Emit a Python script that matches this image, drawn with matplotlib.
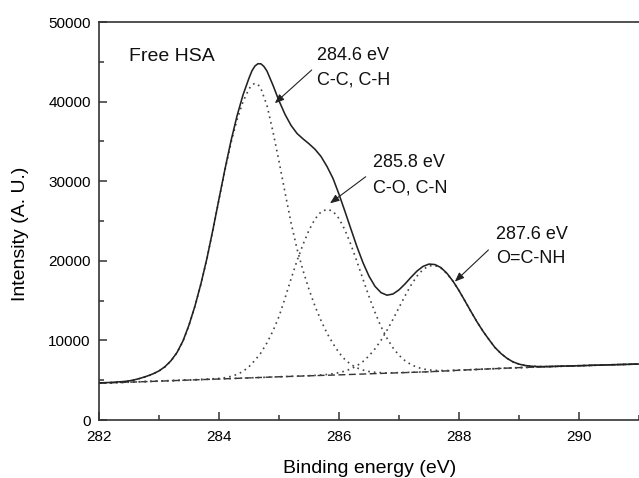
import matplotlib
matplotlib.use("Agg")
import matplotlib.pyplot as plt
from matplotlib.ticker import MultipleLocator

plt.rcParams['font.family'] = ['Liberation Sans', 'DejaVu Sans']

# ---- data (binding energy in eV, intensity in a.u.) ----
base_E = [282.0, 282.5, 283.0, 283.5, 284.0, 284.5, 285.0, 285.5, 286.0, 286.5,
          287.0, 287.5, 288.0, 288.5, 289.0, 289.5, 290.0, 290.5, 291.0]
base_I = [4620, 4750, 4880, 5020, 5150, 5290, 5430, 5550, 5670, 5800,
          5930, 6060, 6250, 6420, 6580, 6700, 6820, 6930, 7030]

c1_E = [282.0, 282.2, 282.4, 282.5, 282.6, 282.7, 282.8, 282.9, 283.0, 283.1,
        283.2, 283.3, 283.4, 283.5, 283.6, 283.7, 283.8, 283.9, 284.0, 284.1,
        284.2, 284.3, 284.4, 284.5, 284.55, 284.6, 284.65, 284.7, 284.8, 284.9,
        285.0, 285.1, 285.2, 285.3, 285.4, 285.5, 285.6, 285.7, 285.8, 285.9,
        286.0, 286.1, 286.2, 286.3, 286.4, 286.5, 286.6, 286.8, 287.0, 287.5,
        288.0, 288.5, 289.0, 289.5, 290.0, 290.5, 291.0]
c1_I = [4650, 4700, 4800, 4900, 5050, 5250, 5480, 5770, 6150, 6680,
        7420, 8450, 9900, 11900, 14300, 17100, 20300, 23900, 27700, 31400,
        34800, 37700, 40000, 41600, 42100, 42300, 42150, 41600, 39500, 36200,
        32500, 28600, 24800, 21500, 18800, 16400, 14300, 12500, 10900, 9600,
        8450, 7580, 6970, 6540, 6270, 6090, 5990, 5910, 5950, 6060,
        6250, 6420, 6580, 6700, 6820, 6930, 7030]

c2_E = [282.0, 282.5, 283.0, 283.5, 283.8, 284.0, 284.1, 284.2, 284.3, 284.4,
        284.5, 284.6, 284.7, 284.8, 284.9, 285.0, 285.1, 285.2, 285.3, 285.4,
        285.5, 285.6, 285.7, 285.8, 285.9, 286.0, 286.1, 286.2, 286.3, 286.4,
        286.5, 286.6, 286.7, 286.8, 286.9, 287.0, 287.1, 287.2, 287.3, 287.4,
        287.5, 287.6, 287.8, 288.0, 288.5, 289.0, 289.5, 290.0, 290.5, 291.0]
c2_I = [4630, 4760, 4900, 5040, 5130, 5230, 5320, 5480, 5720, 6100,
        6700, 7500, 8450, 9700, 11200, 13000, 15300, 17700, 20000, 22050,
        23850, 25250, 26150, 26470, 26230, 25300, 23860, 22000, 19890, 17680,
        15520, 13520, 11740, 10260, 9060, 8130, 7450, 6960, 6630, 6410,
        6290, 6230, 6210, 6260, 6420, 6580, 6700, 6820, 6930, 7030]

c3_E = [282.0, 283.0, 284.0, 285.0, 285.6, 285.8, 285.9,
        286.0, 286.1, 286.2, 286.3, 286.4, 286.5, 286.6, 286.7, 286.8, 286.9,
        287.0, 287.1, 287.2, 287.3, 287.4, 287.5, 287.6, 287.7, 287.8, 287.9,
        288.0, 288.1, 288.2, 288.3, 288.4, 288.5, 288.6, 288.7, 288.8, 288.9,
        289.0, 289.1, 289.2, 289.3, 289.4, 289.6, 290.0, 290.5, 291.0]
c3_I = [4620, 4880, 5150, 5430, 5600, 5720, 5815,
        5950, 6150, 6430, 6820, 7350, 8060, 8940, 10010, 11270, 12650,
        14130, 15590, 16940, 18080, 18900, 19360, 19400, 19070, 18380, 17420,
        16250, 14950, 13620, 12330, 11150, 10100, 9100, 8350, 7750, 7300,
        7020, 6850, 6760, 6720, 6710, 6740, 6820, 6930, 7030]

tot_E = [282.0, 282.2, 282.4, 282.5, 282.6, 282.7, 282.8, 282.9, 283.0, 283.1,
         283.2, 283.3, 283.4, 283.5, 283.6, 283.7, 283.8, 283.9, 284.0, 284.1,
         284.2, 284.3, 284.4, 284.5, 284.55, 284.6, 284.65, 284.7, 284.75, 284.8,
         284.9, 285.0, 285.1,
         285.2, 285.3, 285.4, 285.5, 285.6, 285.7, 285.8, 285.9, 286.0, 286.1,
         286.2, 286.3, 286.4, 286.5, 286.6, 286.7, 286.8, 286.9, 287.0, 287.1,
         287.2, 287.3, 287.4, 287.5, 287.6, 287.7, 287.8, 287.9, 288.0, 288.1,
         288.2, 288.3, 288.4, 288.5, 288.6, 288.7, 288.8, 288.9, 289.0, 289.1,
         289.2, 289.3, 289.4, 289.6, 290.0, 290.5, 291.0]
tot_I = [4660, 4720, 4825, 4910, 5065, 5270, 5510, 5800, 6170, 6700,
         7450, 8480, 9940, 11930, 14340, 17150, 20340, 23960, 27780, 31540,
         35070, 38190, 40840, 42950, 43880, 44480, 44760, 44740, 44400, 43830,
         42050, 40100, 38400,
         37020, 36000, 35320, 34700, 34010, 33110, 31850, 30350, 28360, 26190,
         23960, 21750, 19760, 18070, 16790, 16000, 15680, 15830, 16350, 17090,
         17930, 18710, 19295, 19590, 19530, 19140, 18420, 17440, 16260, 14950,
         13620, 12330, 11150, 10100, 9100, 8350, 7750, 7300, 7020, 6850,
         6760, 6720, 6710, 6740, 6820, 6930, 7030]

x_ticks = [282, 284, 286, 288, 290]
y_ticks = [0, 10000, 20000, 30000, 40000, 50000]

labels = [
    ("Free HSA", 282.505, 45100, 14),
    ("284.6 eV", 285.628, 45230, 13),
    ("C-C, C-H", 285.628, 42090, 13),
    ("285.8 eV", 286.562, 31780, 13),
    ("C-O, C-N", 286.562, 28640, 13),
    ("287.6 eV", 288.617, 22680, 13),
    ("O=C-NH", 288.617, 19690, 13),
]
arrows = [
    ((285.545, 43970), (284.93, 39790)),
    ((286.445, 30560), (285.85, 27220)),
    ((288.49, 21360), (287.93, 17380)),
]

# ---- figure ----
fig = plt.figure(figsize=(6.39, 4.78), dpi=100)
ax = fig.add_axes([99/639, 58/478, 540/639, 398/478])

ax.plot(base_E, base_I, color='#333333', lw=1.0, ls=(0, (5, 2.5)), zorder=2)
for E, I in ((c1_E, c1_I), (c2_E, c2_I), (c3_E, c3_I)):
    ax.plot(E, I, color='#444444', lw=1.2, ls=(0, (1, 2.4)), zorder=3)
ax.plot(tot_E, tot_I, color='#222222', lw=1.15, zorder=4,
        solid_joinstyle='round')

for txt, x, y, fs in labels:
    ax.text(x, y, txt, fontsize=fs, ha='left', va='baseline', color='#111111')
for (tail, tip) in arrows:
    ax.annotate('', xy=tip, xytext=tail,
                arrowprops=dict(arrowstyle='-|>,head_length=0.55,head_width=0.22',
                                color='#222222', lw=0.8, mutation_scale=10,
                                shrinkA=0, shrinkB=0), zorder=5)

ax.set_xlim(282, 291)
ax.set_ylim(0, 50000)
ax.set_xticks(x_ticks)
ax.set_xticklabels([str(t) for t in x_ticks])
ax.set_yticks(y_ticks)
ax.set_yticklabels([str(t) for t in y_ticks])
ax.xaxis.set_minor_locator(MultipleLocator(1))
ax.yaxis.set_minor_locator(MultipleLocator(5000))
ax.tick_params(which='both', direction='in', top=False, right=False,
               labelsize=11, color='#333333', width=1.1)
ax.tick_params(which='major', length=5.5)
ax.tick_params(which='minor', length=3.5)
ax.tick_params(axis='x', pad=7.5)
ax.tick_params(axis='y', pad=6)

for s in ('left', 'bottom', 'top'):
    ax.spines[s].set_linewidth(1.2)
    ax.spines[s].set_color('#333333')
ax.spines['right'].set_visible(False)

fig.text(370/639, 1 - 473/478, "Binding energy (eV)", fontsize=14,
         ha='center', va='baseline')
fig.text(25/639, 1 - 234/478, "Intensity (A. U.)", fontsize=14,
         ha='center', va='baseline', rotation=90, rotation_mode='anchor')

fig.savefig("out.png", dpi=100)
